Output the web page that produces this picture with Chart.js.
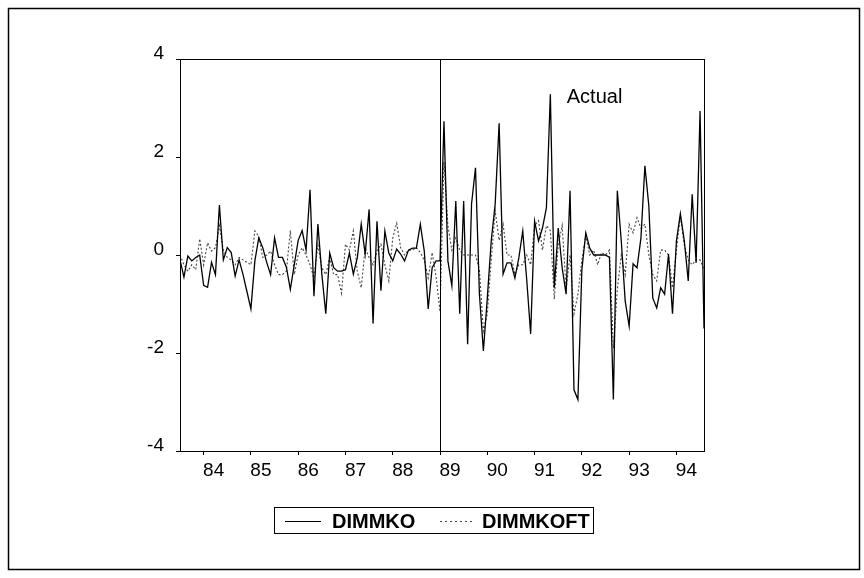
<!DOCTYPE html>
<html><head><meta charset="utf-8">
<script src="https://cdn.jsdelivr.net/npm/chart.js@4.4.1/dist/chart.umd.min.js"></script>
<style>html,body{margin:0;padding:0;background:#fff}canvas{display:block}</style>
</head><body>
<canvas id="c" width="864" height="578"></canvas>
<script>
// ---- data (monthly, 1983:07 - 1994:08) ----
const startYear = 1983.5; // July 1983
const seriesNames = ['DIMMKO', 'DIMMKOFT'];
const dimmko = [
  -0.1, -0.45, -0.02, -0.12, -0.05, 0.0, -0.62, -0.66, -0.15, -0.4,
  1.02, -0.1, 0.15, 0.05, -0.43, -0.1, -0.4, -0.75, -1.1, -0.12,
  0.35, 0.15, -0.15, -0.4, 0.35, -0.05, -0.05, -0.25, -0.7, -0.2,
  0.3, 0.5, 0.1, 1.33, -0.84, 0.63, -0.39, -1.2, 0.04, -0.26,
  -0.33, -0.33, -0.3, 0.04, -0.39, -0.06, 0.63, 0.02, 0.93, -1.4,
  0.69, -0.73, 0.49, 0.04, -0.12, 0.12, 0.02, -0.12, 0.1, 0.14, 0.14,
  0.63, 0.08, -1.1, -0.26, -0.12, -0.12, 2.73, -0.12, -0.63, 1.1,
  -1.2, 1.1, -1.82, 1.04, 1.78, -0.8, -1.96, -0.88, 0.29, 1.04,
  2.69, -0.39, -0.16, -0.16, -0.47, -0.06, 0.49, -0.5, -1.61, 0.69,
  0.29, 0.55, 0.96, 3.28, -0.67, 0.55, -0.26, -0.8, 1.31, -2.75,
  -2.95, -0.3, 0.45, 0.14, 0.0, 0.0, 0.0, 0.0, -0.05, -2.95, 1.31,
  0.29, -0.94, -1.45, -0.18, -0.26, 0.35, 1.82, 1.0, -0.88, -1.08,
  -0.67, -0.8, 0.02, -1.2, 0.29, 0.84, 0.29, -0.53, 1.24, -0.16,
  2.94, -1.5
];
const dimmkoft = [
  0.0, -0.2, -0.33, -0.2, -0.3, 0.33, -0.2, 0.25, 0.08, 0.15,
  0.6, 0.1, -0.05, -0.1, -0.2, -0.05, -0.1, -0.15, -0.2, 0.49,
  0.38, -0.05, 0.0, 0.08, -0.2, -0.4, -0.4, -0.33, 0.5, -0.4,
  0.0, 0.15, 0.0, -0.2, -0.47, 0.2, -0.26, -0.4, -0.05, -0.4,
  -0.4, -0.78, 0.22, 0.1, 0.49, -0.33, -0.67, 0.15, -0.05, -0.2,
  0.08, 0.22, -0.2, -0.53, 0.35, 0.65, 0.15, 0.0, 0.1, 0.1, 0.15,
  0.05, -0.1, -0.47, 0.05, -0.45, -1.15, 1.9, 0.6, 0.1, 0.35,
  0.1, 0.0, 0.0, 0.0, 0.0, -0.3, -1.55, -1.2, -0.1, 0.9,
  0.3, 0.63, 0.0, 0.0, -0.4, -0.2, -0.2, 0.0, -0.2, 0.6,
  0.7, 0.1, 0.6, 0.5, -0.9, 0.2, 0.6, -0.7, 0.0, -1.2,
  -0.8, -0.1, 0.4, 0.0, 0.1, -0.2, 0.05, 0.0, 0.1, -1.9, -0.7,
  0.0, -0.4, 0.63, 0.45, 0.76, 0.55, 0.63, 0.0, -0.4, -0.53,
  0.1, 0.1, 0.0, -0.67, 0.1, 0.8, 0.2, -0.1, -0.2, -0.1,
  -0.1, -0.3
];
const yearTickLabels = ['84','85','86','87','88','89','90','91','92','93','94'];
const yTickValues = [-4, -2, 0, 2, 4];
const splitYear = 1989;
const annotationText = 'Actual';

// ---- layout / style ----
const annotationPos = [1991.68, 3.22];
const FONT = '"Liberation Sans", Arial, Helvetica, sans-serif';

const toPoints = arr => arr.map((v, i) => ({ x: startYear + i / 12, y: v }));
const xMin = startYear, xMax = startYear + (dimmko.length - 1) / 12;

const decor = {
  id: 'decor',
  afterDraw(chart) {
    const { ctx, chartArea: a, scales: { x, y } } = chart;
    ctx.save();
    ctx.strokeStyle = '#000';
    ctx.lineWidth = 1;
    ctx.strokeRect(a.left + 0.5, a.top + 0.5, a.right - a.left, a.bottom - a.top);
    const sx = Math.round(x.getPixelForValue(splitYear)) + 0.5;
    ctx.beginPath(); ctx.moveTo(sx, a.top); ctx.lineTo(sx, a.bottom); ctx.stroke();
    ctx.fillStyle = '#000';
    ctx.font = '20px ' + FONT;
    ctx.textAlign = 'left'; ctx.textBaseline = 'middle';
    ctx.fillText(annotationText, x.getPixelForValue(annotationPos[0]), y.getPixelForValue(annotationPos[1]));
    // outer frame
    ctx.lineWidth = 1.5;
    ctx.strokeRect(8.5, 8.5, 851, 561);
    // legend
    ctx.lineWidth = 1;
    ctx.strokeRect(274.5, 507.5, 319, 26);
    const ly = 521;
    ctx.beginPath(); ctx.moveTo(285, ly + 0.5); ctx.lineTo(321, ly + 0.5); ctx.stroke();
    ctx.save();
    ctx.strokeStyle = '#444'; ctx.setLineDash([2, 3]);
    ctx.beginPath(); ctx.moveTo(440, ly + 0.5); ctx.lineTo(473, ly + 0.5); ctx.stroke();
    ctx.restore();
    ctx.font = 'bold 20px ' + FONT;
    ctx.fillText(seriesNames[0], 332, ly + 1);
    ctx.fillText(seriesNames[1], 482, ly + 1);
    ctx.restore();
  }
};

new Chart(document.getElementById('c'), {
  type: 'line',
  data: {
    datasets: [
      { label: seriesNames[0], data: toPoints(dimmko), borderColor: '#000', borderWidth: 1.3, pointRadius: 0, tension: 0, order: 1 },
      { label: seriesNames[1], data: toPoints(dimmkoft), borderColor: '#444', borderWidth: 1.1, borderDash: [2, 2], pointRadius: 0, tension: 0, order: 2 }
    ]
  },
  options: {
    responsive: false,
    devicePixelRatio: 1,
    animation: false,
    layout: { padding: { top: 59, right: 160, left: 0, bottom: 0 } },
    plugins: { legend: { display: false }, tooltip: { enabled: false } },
    scales: {
      x: {
        type: 'linear', min: xMin, max: xMax,
        afterBuildTicks: s => { s.ticks = yearTickLabels.map(l => ({ value: 1900 + Number(l) })); },
        afterFit: s => { s.height = 127; },
        grid: { drawOnChartArea: false, drawTicks: true, tickLength: 4, color: '#000' },
        border: { display: true, color: '#000' },
        ticks: { callback: (v, i) => yearTickLabels[i], color: '#000', font: { family: FONT, size: 19 }, padding: 4, labelOffset: 10, maxRotation: 0, autoSkip: false }
      },
      y: {
        min: -4, max: 4,
        afterBuildTicks: s => { s.ticks = yTickValues.map(v => ({ value: v })); },
        afterFit: s => { s.width = 180; },
        grid: { drawOnChartArea: false, drawTicks: true, tickLength: 4, color: '#000' },
        border: { display: true, color: '#000' },
        ticks: { callback: v => String(v), color: '#000', font: { family: FONT, size: 19 }, padding: 12, labelOffset: -5 }
      }
    }
  },
  plugins: [decor]
});
</script>
</body></html>
